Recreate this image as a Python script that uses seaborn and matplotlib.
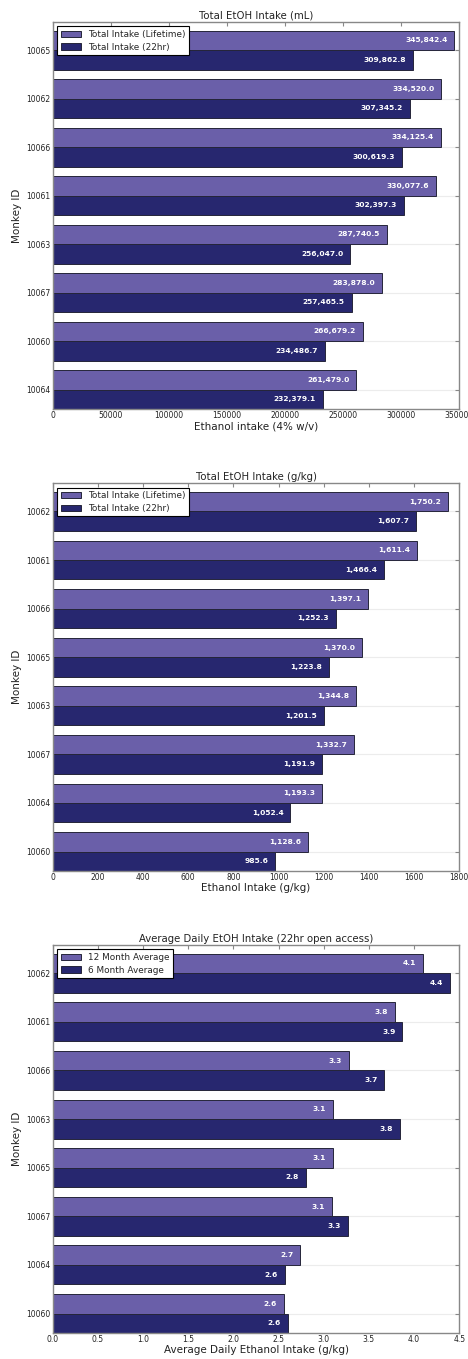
import matplotlib
matplotlib.use("Agg")
import matplotlib.pyplot as plt
import seaborn as sns
import pandas as pd

# ---------------- data ----------------
monkeys_ml = ["10065", "10062", "10066", "10061", "10063", "10067", "10060", "10064"]
lifetime_ml = [345842.4, 334520.0, 334125.4, 330077.6, 287740.5, 283878.0, 266679.2, 261479.0]
hr22_ml = [309862.8, 307345.2, 300619.3, 302397.3, 256047.0, 257465.5, 234486.7, 232379.1]

monkeys_gkg = ["10062", "10061", "10066", "10065", "10063", "10067", "10064", "10060"]
lifetime_gkg = [1750.2, 1611.4, 1397.1, 1370.0, 1344.8, 1332.7, 1193.3, 1128.6]
hr22_gkg = [1607.7, 1466.4, 1252.3, 1223.8, 1201.5, 1191.9, 1052.4, 985.6]

monkeys_avg = ["10062", "10061", "10066", "10063", "10065", "10067", "10064", "10060"]
avg12 = [4.10, 3.79, 3.28, 3.10, 3.10, 3.09, 2.74, 2.56]
avg6 = [4.40, 3.87, 3.67, 3.84, 2.80, 3.27, 2.57, 2.60]

series_total = ["Total Intake (Lifetime)", "Total Intake (22hr)"]
series_avg = ["12 Month Average", "6 Month Average"]

titles = ["Total EtOH Intake (mL)", "Total EtOH Intake (g/kg)",
          "Average Daily EtOH Intake (22hr open access)"]
xlabels = ["Ethanol intake (4% w/v)", "Ethanol Intake (g/kg)",
           "Average Daily Ethanol Intake (g/kg)"]
xlims = [(0, 350000), (0, 1800), (0, 4.5)]
xsteps = [50000, 200, 0.5]

# ---------------- style ----------------
sns.set_style("white")
plt.rcParams["font.family"] = ["DejaVu Sans"]
plt.rcParams.update({
    "xtick.direction": "in", "ytick.direction": "in",
    "xtick.top": True, "ytick.right": True,
    "xtick.color": "#888888", "ytick.color": "#888888",
    "xtick.labelcolor": "#222222", "ytick.labelcolor": "#222222",
    "xtick.major.size": 3, "ytick.major.size": 3,
    "xtick.major.pad": 1.5, "ytick.major.pad": 1.5,
    "xtick.labelsize": 5.5, "ytick.labelsize": 5.5,
    "axes.edgecolor": "#888888", "axes.linewidth": 1.0,
})

LIGHT = "#6a5fa9"
DARK = "#27276f"


def make_df(monkeys, a, b, names):
    return pd.DataFrame({
        "monkey": monkeys * 2,
        "value": list(a) + list(b),
        "series": [names[0]] * len(monkeys) + [names[1]] * len(monkeys),
    })


panels = [
    (make_df(monkeys_ml, lifetime_ml, hr22_ml, series_total), monkeys_ml, series_total),
    (make_df(monkeys_gkg, lifetime_gkg, hr22_gkg, series_total), monkeys_gkg, series_total),
    (make_df(monkeys_avg, avg12, avg6, series_avg), monkeys_avg, series_avg),
]

fig = plt.figure(figsize=(4.68, 13.59), dpi=100)
W, H = 468.0, 1359.0
left = 52.7 / W
width = (459.3 - 52.7) / W
boxes = [(22.0, 409.0), (483.3, 871.0), (945.0, 1333.0)]

for i, (df, order, names) in enumerate(panels):
    top, bot = boxes[i]
    ax = fig.add_axes([left, 1 - bot / H, width, (bot - top) / H])
    sns.barplot(data=df, y="monkey", x="value", hue="series", orient="h",
                order=order, hue_order=names, palette=[LIGHT, DARK],
                saturation=1, width=0.8, edgecolor="#25253a", linewidth=0.7,
                errorbar=None, ax=ax, zorder=2)
    ax.set_ylim(7.4, -0.58)
    ax.set_xlim(*xlims[i])
    lo, hi = xlims[i]
    n = int(round((hi - lo) / xsteps[i]))
    ax.set_xticks([lo + k * xsteps[i] for k in range(n + 1)])
    if i == 2:
        ax.set_xticklabels([f"{lo + k * xsteps[i]:.1f}" for k in range(n + 1)])
    ax.yaxis.grid(True, color="#ececec", linewidth=0.8, zorder=0)
    ax.xaxis.grid(False)
    ax.set_axisbelow(True)
    for sp in ax.spines.values():
        sp.set_visible(True)
        sp.set_color("#888888")

    for cont in ax.containers:
        for bar in cont:
            w = bar.get_width()
            ax.annotate(f"{w:,.1f}",
                        xy=(w, bar.get_y() + bar.get_height() / 2),
                        xytext=(-5, 0), textcoords="offset points",
                        ha="right", va="center", color="white",
                        fontsize=5.4, fontweight="bold", zorder=3)

    ax.set_title(titles[i], fontsize=7.3, pad=2.5, color="#222222")
    ax.set_xlabel(xlabels[i], fontsize=7.5, labelpad=1, color="#222222")
    ax.set_ylabel("Monkey ID", fontsize=7.5, labelpad=3, color="#222222")
    handles, labels = ax.get_legend_handles_labels()
    leg = ax.legend(handles, labels, loc="upper left", fontsize=6.4,
                    frameon=True, fancybox=False, framealpha=1,
                    edgecolor="black", handlelength=2.3, borderaxespad=0.5,
                    labelspacing=0.4, title=None)
    leg.get_frame().set_linewidth(0.8)

fig.savefig("out.png", dpi=100)
